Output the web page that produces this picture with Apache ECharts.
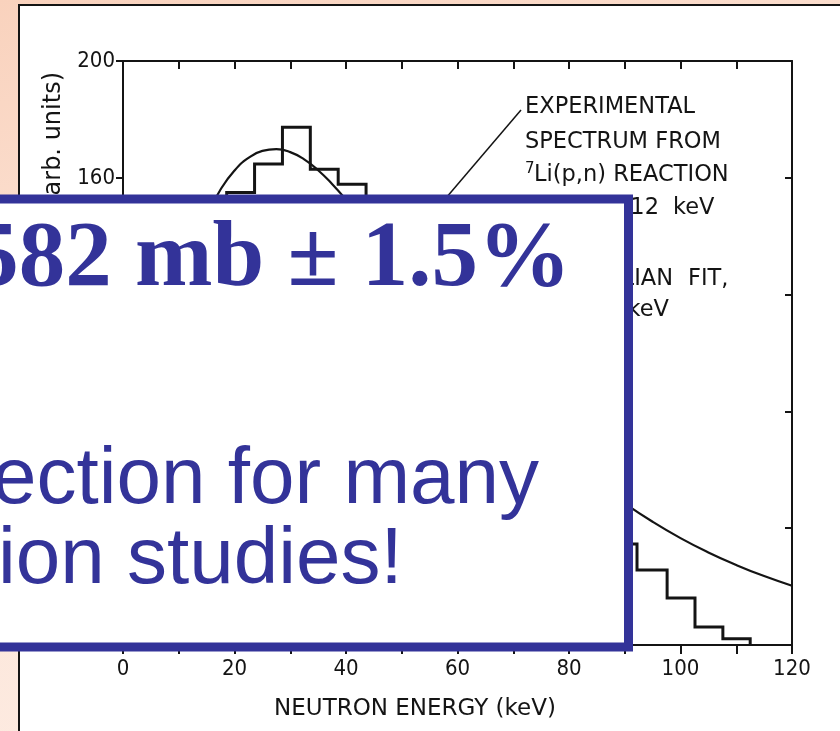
<!DOCTYPE html>
<html>
<head>
<meta charset="utf-8">
<script src="https://cdn.jsdelivr.net/npm/echarts@6/dist/echarts.min.js"></script>
<style>
  html, body { margin: 0; padding: 0; width: 840px; height: 731px; overflow: hidden;
    background: linear-gradient(165deg, #f9d2bd 0%, #fce2d4 35%, #fdeee6 100%); }
  #chart { position: absolute; left: 0; top: 0; width: 840px; height: 731px; }
</style>
</head>
<body>
<div id="chart"></div>
<script>
// Axis tick labels
const energyTicks = [0, 20, 40, 60, 80, 100, 120];      // keV
const intensityTicks = [0, 40, 80, 120, 160, 200];      // arb. units

// Experimental 7Li(p,n) neutron spectrum: bin edges (keV) and height of each bin
const binEdges = [3.6, 8.6, 13.6, 18.6, 23.6, 28.6, 33.6, 38.6, 43.6, 48.5, 53.4,
                  58.3, 63.2, 68.1, 73.0, 77.9, 82.8, 87.5, 92.2, 97.6, 102.6, 107.6, 112.5];
const binCounts = [22, 72, 128, 155, 164.7, 177.3, 162.9, 157.8, 148, 139, 129,
                   117, 105, 92, 78, 64, 50, 34.6, 25.7, 16.1, 6.2, 2.1];

// Maxwellian fit (kT = 25 keV) sampled along the energy axis
const fitEnergy = [0, 2.5, 5, 7.5, 10, 12.5, 15, 17.5, 20, 22.5, 25, 27.5, 30, 32.5, 35,
                   37.5, 40, 42.5, 45, 47.5, 50, 55, 60, 65, 70, 75, 80, 85, 90,
                   95, 100, 105, 110, 115, 120];
const fitValue  = [0, 40, 72, 98, 119, 135, 147, 156, 162.5, 166.8, 169.2, 169.8, 168.8, 166.3, 162.6,
                   157.9, 152.5, 146.6, 140.4, 134.0, 127.5, 114.8, 102.8, 91.6, 81.2, 71.8, 63.2, 55.5, 48.5,
                   42.2, 36.6, 31.7, 27.4, 23.6, 20.3];

// Annotation texts
const spectrumNote = ['EXPERIMENTAL', 'SPECTRUM FROM', 'Li(p,n) REACTION', 'Ep = 1912', 'keV'];
const fitNote = ['MAXWELLIAN', 'FIT,', 'kT = 25 keV'];
const xAxisTitle = 'NEUTRON ENERGY (keV)';
const yAxisTitle = '(arb. units)';
const headline = '582 mb \u00b1 1.5%';
const bodyLines = ['ection for many', 'ion studies!'];

// Build the histogram outline as a closed step path
const stepPoints = [[binEdges[0], 0]];
binCounts.forEach((c, i) => {
  stepPoints.push([binEdges[i], c]);
  stepPoints.push([binEdges[i + 1], c]);
});
stepPoints.push([binEdges[binEdges.length - 1], 0]);

const fitPoints = fitEnergy.map((e, i) => [e, fitValue[i]]);

const INK = '#141414';
const BLUE = '#333399';
const tickFont = '"DejaVu Sans Condensed", "Liberation Sans Narrow", "DejaVu Sans", sans-serif';
const noteFont = '"DejaVu Sans", sans-serif';
const noteSize = '22.5px ';

function txt(text, x, y, style, extra) {
  return Object.assign({
    type: 'text', x: x, y: y, z: 5,
    style: Object.assign({
      text: text, fill: INK, font: noteSize + noteFont,
      align: 'left', verticalAlign: 'middle'
    }, style || {})
  }, extra || {});
}

const chart = echarts.init(document.getElementById('chart'), null, { renderer: 'canvas' });

chart.setOption({
  backgroundColor: 'transparent',
  animation: false,
  grid: { left: 123, right: 48, top: 61, bottom: 86, containLabel: false },
  xAxis: [
    {
      type: 'value', position: 'bottom', min: 0, max: 120, interval: 10,
      axisLine: { show: true, onZero: false, lineStyle: { color: INK, width: 2 } },
      axisTick: { show: true, inside: false, length: 9, lineStyle: { color: INK, width: 2 } },
      axisLabel: {
        show: true, margin: 13, color: INK, fontSize: 22, fontFamily: tickFont,
        formatter: v => energyTicks.indexOf(v) >= 0 ? String(v) : ''
      },
      splitLine: { show: false }
    },
    {
      type: 'value', position: 'top', min: 0, max: 120, interval: 10,
      axisLine: { show: true, onZero: false, lineStyle: { color: INK, width: 2 } },
      axisTick: { show: true, inside: true, length: 8, lineStyle: { color: INK, width: 2 } },
      axisLabel: { show: false },
      splitLine: { show: false }
    }
  ],
  yAxis: [
    {
      type: 'value', position: 'left', min: 0, max: 200, interval: 40,
      axisLine: { show: true, onZero: false, lineStyle: { color: INK, width: 2 } },
      axisTick: { show: true, inside: false, length: 7, lineStyle: { color: INK, width: 2 } },
      axisLabel: {
        show: true, margin: 8, color: INK, fontSize: 22, fontFamily: tickFont,
        formatter: v => intensityTicks.indexOf(v) >= 0 ? String(v) : ''
      },
      splitLine: { show: false }
    },
    {
      type: 'value', position: 'right', min: 0, max: 200, interval: 40,
      axisLine: { show: true, onZero: false, lineStyle: { color: INK, width: 2 } },
      axisTick: { show: true, inside: true, length: 7, lineStyle: { color: INK, width: 2 } },
      axisLabel: { show: false },
      splitLine: { show: false }
    }
  ],
  series: [
    {
      name: 'Maxwellian fit', type: 'line', xAxisIndex: 0, yAxisIndex: 0,
      data: fitPoints, smooth: true, symbol: 'none', z: 3,
      lineStyle: { color: INK, width: 2.2 }
    },
    {
      name: 'Experimental spectrum', type: 'line', xAxisIndex: 0, yAxisIndex: 0,
      data: stepPoints, smooth: false, symbol: 'none', z: 4,
      lineStyle: { color: INK, width: 3, join: 'miter' }
    }
  ],
  graphic: [
    // white figure panel with its frame
    { type: 'rect', z: -100, silent: true,
      shape: { x: 19, y: 5, width: 900, height: 800 },
      style: { fill: '#ffffff', stroke: INK, lineWidth: 2 } },

    // axis titles
    txt(xAxisTitle, 415, 709, { font: '23px ' + noteFont, align: 'center' }),
    txt(yAxisTitle, 54, 72, { font: '24px ' + noteFont, align: 'right' }, { rotation: Math.PI / 2 }),

    // spectrum annotation with leader line
    { type: 'line', z: 5, shape: { x1: 521, y1: 110, x2: 440, y2: 205 },
      style: { stroke: INK, lineWidth: 1.5 } },
    txt(spectrumNote[0], 525, 107),
    txt(spectrumNote[1], 525, 142),
    txt('7', 525, 169, { font: '15px ' + noteFont }),
    txt(spectrumNote[2], 534, 175),
    txt(spectrumNote[3], 659, 208, { align: 'right' }),
    txt(spectrumNote[4], 673, 208),

    // fit annotation
    txt(fitNote[0], 673, 279, { align: 'right' }),
    txt(fitNote[1], 688, 279),
    txt(fitNote[2], 669, 310, { align: 'right' }),

    // highlighted statement box
    { type: 'rect', z: 100, silent: true,
      shape: { x: -20, y: 199, width: 648.5, height: 448 },
      style: { fill: '#ffffff', stroke: BLUE, lineWidth: 9 } },
    txt(headline, 571, 261, { fill: BLUE, font: 'bold 93px "Liberation Serif", "Times New Roman", serif', align: 'right' }, { z: 101 }),
    txt(bodyLines[0], 539, 481, { fill: BLUE, font: '80px "Liberation Sans", Arial, sans-serif', align: 'right' }, { z: 101 }),
    txt(bodyLines[1], -2, 561, { fill: BLUE, font: '80px "Liberation Sans", Arial, sans-serif', align: 'left' }, { z: 101 })
  ]
});
</script>
</body>
</html>
